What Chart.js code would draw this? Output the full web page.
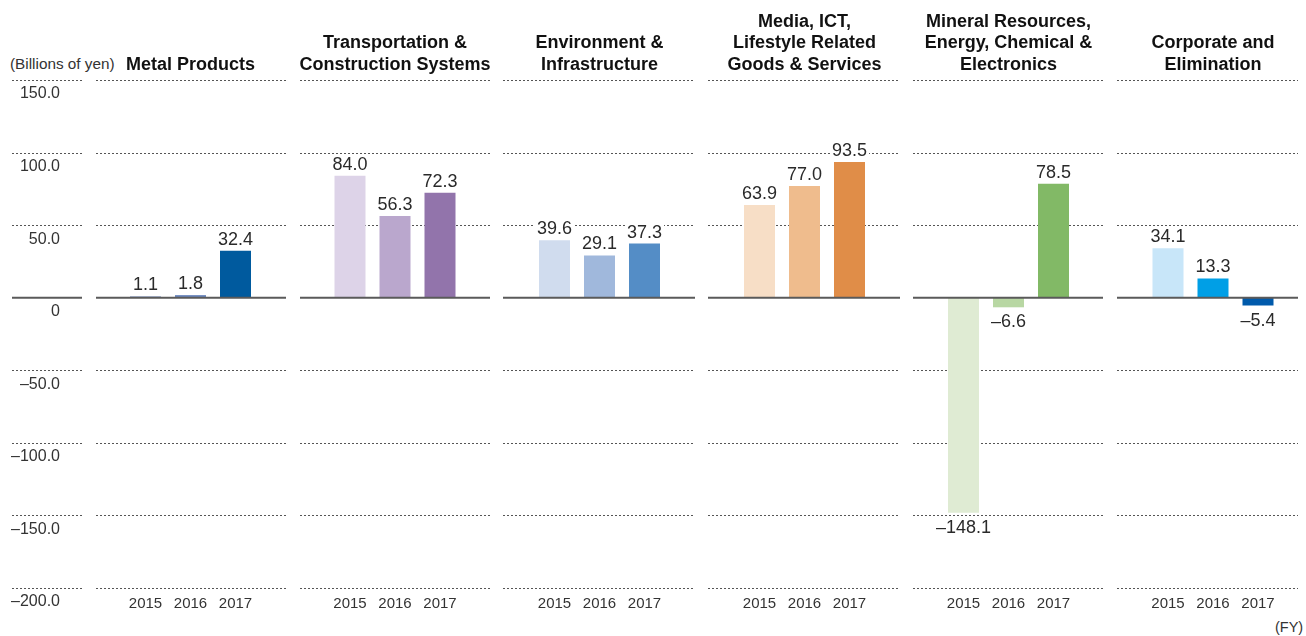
<!DOCTYPE html>
<html>
<head>
<meta charset="utf-8">
<script src="https://cdn.jsdelivr.net/npm/chart.js@4.4.0/dist/chart.umd.min.js"></script>
<style>
  body { margin: 0; background: #fff; font-family: "Liberation Sans", Arial, sans-serif; }
  #wrap { position: relative; width: 1306px; height: 636px; overflow: hidden; }
  canvas { position: absolute; top: 0; }
  .title { position: absolute; bottom: 561px; width: 240px; text-align: center;
           font-weight: bold; font-size: 18px; line-height: 21.3px; color: #111; }
  .unit { position: absolute; left: 10px; top: 54px; font-size: 15.3px; line-height: 20px; color: #333; }
  .fy { position: absolute; left: 1275px; top: 617px; font-size: 14.5px; line-height: 20px; color: #333; }
</style>
</head>
<body>
<div id="wrap">
  <div class="unit">(Billions of yen)</div>
  <div class="fy">(FY)</div>
</div>
<script>
// Data
const years = ['2015', '2016', '2017'];
const segmentNames = [
    'Metal Products',
    'Transportation &\nConstruction Systems',
    'Environment &\nInfrastructure',
    'Media, ICT,\nLifestyle Related\nGoods & Services',
    'Mineral Resources,\nEnergy, Chemical &\nElectronics',
    'Corporate and\nElimination'
];
const metalProducts = [1.1, 1.8, 32.4];
const transportation = [84.0, 56.3, 72.3];
const environment = [39.6, 29.1, 37.3];
const mediaIct = [63.9, 77.0, 93.5];
const mineralResources = [-148.1, -6.6, 78.5];
const corporate = [34.1, 13.3, -5.4];
const yTicks = [150, 100, 50, 0, -50, -100, -150, -200];

const seriesList = [metalProducts, transportation, environment, mediaIct, mineralResources, corporate];

const palettes = [
    ['#a8b6d4', '#6a86bd', '#005a9e'],
    ['#ddd3e8', '#baa7cd', '#9274ab'],
    ['#d0dcee', '#a0b8dc', '#548dc6'],
    ['#f7dec6', '#efbc8d', '#e08d48'],
    ['#dfebd3', '#b8d7a3', '#82b966'],
    ['#c8e6f9', '#009fe6', '#005aab']
];

// layout: panel gridline extents and bar group centres
const panelEdges = [[96, 286], [300, 490], [503, 695], [708, 900], [913, 1103], [1117, 1298]];
const panelCenters = [190.5, 395, 599.5, 804.5, 1008.5, 1213];
const groupHalf = 67.5;
const PLOT_TOP = 80, PLOT_BOTTOM = 588, H = 636, X_AXIS_H = 30;

function fmt(v) {
    return (v < 0 ? '\u2013' : '') + Math.abs(v).toFixed(1);
}

const panelDecor = {
    id: 'panelDecor',
    beforeDatasetsDraw(chart, args, opts) {
        const { ctx } = chart;
        const y = chart.scales.y;
        ctx.save();
        ctx.strokeStyle = '#555';
        ctx.lineWidth = 1;
        ctx.setLineDash([2, 2]);
        y.ticks.forEach(t => {
            if (t.value === 0) return;
            const py = Math.round(y.getPixelForValue(t.value)) + 0.5;
            opts.segments.forEach(([a, b]) => {
                ctx.beginPath();
                ctx.moveTo(a, py);
                ctx.lineTo(b, py);
                ctx.stroke();
            });
        });
        ctx.restore();
    },
    afterDatasetsDraw(chart, args, opts) {
        const { ctx } = chart;
        const y = chart.scales.y;
        ctx.save();

        // zero line
        const zy = y.getPixelForValue(0);
        ctx.strokeStyle = '#5a5a5a';
        ctx.lineWidth = 2;
        opts.segments.forEach(([a, b]) => {
            ctx.beginPath();
            ctx.moveTo(a, zy);
            ctx.lineTo(b, zy);
            ctx.stroke();
        });

        // value labels
        ctx.font = '18px "Liberation Sans", Arial, sans-serif';
        ctx.textAlign = 'center';
        ctx.textBaseline = 'middle';
        const ds = chart.data.datasets[0];
        chart.getDatasetMeta(0).data.forEach((bar, i) => {
            const v = ds.data[i];
            const txt = fmt(v);
            const ly = v >= 0 ? bar.y - 11 : bar.y + 15;
            const w = ctx.measureText(txt).width;
            ctx.fillStyle = '#fff';
            ctx.fillRect(bar.x - w / 2 - 2, ly - 8, w + 4, 16);
            ctx.fillStyle = '#2a2a2a';
            ctx.fillText(txt, bar.x, ly);
        });

        // y axis labels (first panel only)
        if (opts.yLabels) {
            ctx.font = '16px "Liberation Sans", Arial, sans-serif';
            ctx.textAlign = 'right';
            ctx.fillStyle = '#333';
            y.ticks.forEach(t => {
                const py = y.getPixelForValue(t.value) + 14;
                ctx.fillText(t.value === 0 ? '0' : fmt(t.value), 60, py);
            });
        }
        ctx.restore();
    }
};

const wrap = document.getElementById('wrap');

seriesList.forEach((values, p) => {
    const [gx0, gx1] = panelEdges[p];
    const left = p === 0 ? 0 : gx0;
    const width = gx1 - left;
    const cx = panelCenters[p] - left;
    const segments = [[gx0 - left, gx1 - left]];
    if (p === 0) segments.unshift([12, 82]);

    const canvas = document.createElement('canvas');
    canvas.width = width;
    canvas.height = H;
    canvas.style.left = left + 'px';
    wrap.appendChild(canvas);

    const title = document.createElement('div');
    title.className = 'title';
    title.style.left = (panelCenters[p] - 120) + 'px';
    title.innerHTML = segmentNames[p].split('\n').join('<br>');
    wrap.appendChild(title);

    new Chart(canvas.getContext('2d'), {
        type: 'bar',
        data: {
            labels: years,
            datasets: [{
                data: values,
                backgroundColor: palettes[p],
                barPercentage: 31 / 45,
                categoryPercentage: 1
            }]
        },
        options: {
            responsive: false,
            animation: false,
            layout: {
                padding: {
                    top: PLOT_TOP,
                    bottom: H - PLOT_BOTTOM - X_AXIS_H,
                    left: cx - groupHalf,
                    right: width - (cx + groupHalf)
                }
            },
            scales: {
                x: {
                    grid: { display: false, drawTicks: false },
                    border: { display: false },
                    ticks: {
                        color: '#333',
                        padding: 7,
                        font: { family: '"Liberation Sans", Arial, sans-serif', size: 15 }
                    },
                    afterFit: s => { s.height = X_AXIS_H; }
                },
                y: {
                    display: false,
                    min: yTicks[yTicks.length - 1],
                    max: yTicks[0],
                    ticks: { stepSize: 50 }
                }
            },
            plugins: {
                legend: { display: false },
                tooltip: { enabled: false },
                panelDecor: { segments: segments, yLabels: p === 0 }
            }
        },
        plugins: [panelDecor]
    });
});
</script>
</body>
</html>
